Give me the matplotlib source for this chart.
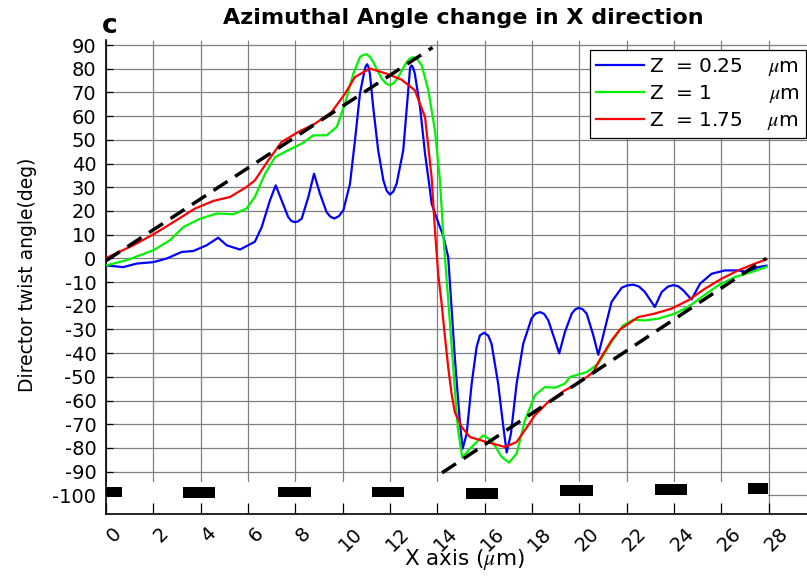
import matplotlib
matplotlib.use("Agg")
import matplotlib.pyplot as plt
from matplotlib.transforms import ScaledTranslation

plt.rcParams["font.family"] = ["DejaVu Sans"]
plt.rcParams["axes.unicode_minus"] = False
plt.rcParams["mathtext.fontset"] = "stix"

# ---- data -------------------------------------------------------------
x_blue = [0, 0.73, 1.3, 2, 2.56, 3.2, 3.69, 4.25, 4.74, 5.1, 5.66, 6.29, 6.58,
          6.93, 7.17, 7.42, 7.7, 7.83, 7.96, 8.1, 8.27, 8.55, 8.79, 9.04, 9.32,
          9.48, 9.65, 9.84, 10.03, 10.31, 10.52, 10.73, 10.91, 10.97, 11.03,
          11.09, 11.15, 11.29, 11.5, 11.72, 11.86, 12.0, 12.14, 12.28, 12.56,
          12.77, 12.85, 12.91, 12.97, 13.05, 13.27, 13.48, 13.69, 13.76, 13.97,
          14.11, 14.25, 14.46, 14.58, 14.74, 14.96, 15.07, 15.24, 15.45, 15.66,
          15.8, 15.98, 16.15, 16.29, 16.57, 16.79, 16.93, 17.11, 17.35, 17.63,
          17.98, 18.15, 18.34, 18.52, 18.69, 18.97, 19.15, 19.39, 19.68, 19.83,
          19.98, 20.14, 20.31, 20.59, 20.8, 21.01, 21.36, 21.79, 22.03, 22.28,
          22.52, 22.77, 23.19, 23.48, 23.75, 23.97, 24.18, 24.39, 24.74, 25.1,
          25.59, 26.15, 26.71, 27.14, 27.56, 27.91]
y_blue = [-3, -3.7, -2.2, -1.6, -0.1, 2.7, 3.1, 5.5, 8.7, 5.5, 3.7, 7, 13.2,
          24.5, 30.8, 24.5, 17.4, 15.8, 15.3, 15.5, 16.8, 25.9, 35.7, 27.3, 19.5,
          17.6, 16.8, 17.8, 20.3, 31.5, 49.8, 69.5, 78.6, 81.0, 81.9,
          80.8, 77.9, 63.8, 45.6, 32.9, 28.5, 26.9, 28.2, 31.5, 45.6,
          70.9, 80.5, 81.4, 80.6, 77.9, 63.8, 44.2, 28.7, 23.1, 17,
          13.2, 9.5, 0.5, -17.7, -42, -70, -80.3, -74, -52.9, -37.4,
          -32.5, -31.4, -32.6, -36, -52.9, -71.2, -81.9, -74, -52.9, -36,
          -25.4, -23.3, -22.7, -23.5, -26.2, -34.6, -40.1, -31.1, -23.3, -21.5,
          -20.9, -21.5, -23.3, -32.5, -40.7, -32.5, -18.4, -12.4, -11.4, -11.1,
          -11.9, -14.2, -20.5, -14.2, -11.9, -11.3, -11.8, -13.5, -17.4, -10.7,
          -6.5, -5.1, -5.1, -5.8, -3.7, -3.1]

x_green = [0, 0.87, 2, 2.7, 3.27, 3.97, 4.68, 5.38, 5.94, 6.29, 6.72, 7.14, 7.7,
           8.27, 8.76, 9.32, 9.75, 10.1, 10.45, 10.73, 10.87, 11.01, 11.15,
           11.29, 11.65, 11.83, 12.0, 12.17, 12.35, 12.7, 12.84, 12.98, 13.16,
           13.34, 13.62, 13.9, 14.11, 14.25, 14.46, 14.67, 14.86, 15.05, 15.45,
           15.94, 16.29, 16.72, 17.03, 17.35, 17.7, 18.12, 18.55, 18.97, 19.39,
           19.6, 20.31, 20.8, 21.36, 21.85, 22.28, 22.77, 23.33, 24.04, 24.6,
           25.17, 25.87, 26.57, 27.28, 27.91]
y_green = [-3, -0.8, 3.4, 7.6, 13.2, 16.7, 18.9, 18.6, 21, 25.9, 35.7, 42.7, 45.6,
           48.4, 51.9, 51.9, 55.4, 65.3, 77.9, 84.9, 85.8, 86.1, 85.0,
           82.8, 75.8, 73.8, 73, 74, 76.5, 82.8, 84.3, 84.9, 84,
           81.4, 70.9, 54, 33, 10, -17.7, -45.9, -71.2, -84, -79.6,
           -74.7, -76.8, -83.8, -86.2, -82.4, -68.4, -57.8, -54.3, -54.6, -52.9,
           -50.1, -48, -44.5, -35.3, -28.3, -25.9, -26.2, -25.5, -23.3, -20.5,
           -16.3, -11.4, -7.9, -5.8, -3.6]

x_red = [0, 1.15, 2, 2.85, 3.76, 4.53, 5.24, 5.94, 6.29, 6.86, 7.42, 8.12, 8.83,
         9.53, 10.1, 10.52, 11.15, 11.86, 12.49, 13.05, 13.48, 13.62, 13.76,
         13.9, 14.04, 14.18, 14.32, 14.46, 14.6, 14.74, 15.03, 15.38, 16.08,
         16.86, 17.35, 17.77, 18.12, 18.69, 19.39, 20.03, 20.59, 20.8, 21.36,
         21.72, 22.49, 23.19, 23.9, 24.6, 25.31, 26.01, 26.71, 27.42, 27.91]
y_red = [0.1, 5.5, 10.1, 15.3, 21, 24.2, 25.9, 30.1, 32.9, 41.4, 49.1, 53.3, 56.8,
         61.7, 69.5, 76.5, 80.1, 77.9, 75.4, 70.9, 59.6, 47, 34,
         11.8, -7, -19, -33, -46, -57, -65, -71.2, -75.4, -77.5,
         -79.6, -77.5, -71.5, -66.2, -60.6, -55.7, -52.2, -48, -43.8, -34.6,
         -30, -24.8, -23.3, -21.2, -17.7, -12.8, -8.6, -5.1, -2.2, -0.4]

# linear guides for the two twist branches
guide1_x = [0, 13.8]
guide1_y = [-1, 89]
guide2_x = [14.2, 27.9]
guide2_y = [-90.5, 0]

# electrode stripes along the bottom
bar_left = [0, 3.26, 7.28, 11.22, 15.21, 19.2, 23.19, 27.14]
bar_width = [0.68, 1.36, 1.37, 1.37, 1.36, 1.36, 1.35, 0.82]
bar_bottom = [-100.8, -101.1, -100.8, -100.8, -101.4, -100.1, -99.7, -99.3]
bar_height = 4.5

x_ticks = list(range(0, 29, 2))
y_ticks = list(range(-100, 91, 10))
series_labels = ["Z  = 0.25    ", "Z  = 1         ", "Z  = 1.75    "]

# ---- figure -----------------------------------------------------------
W, H = 807, 579
fig = plt.figure(figsize=(W / 100, H / 100), dpi=100)
ax = fig.add_axes([106 / W, (H - 514.3) / H, 710 / W, 474 / H])
ax.set_xlim(0, 30)
ax.set_ylim(-108, 92)

grid_kw = dict(color="0.5", lw=0.9, zorder=0.5)
ax.vlines(x_ticks, -108, 92, **grid_kw)
ax.hlines(y_ticks, 0, 30, **grid_kw)

# blank strip holding the electrodes
ax.bar([0], [13.6], width=[27.96], bottom=[-108], align="edge",
       color="white", zorder=1)
ax.bar(bar_left, [bar_height] * len(bar_left), width=bar_width,
       bottom=bar_bottom, align="edge", color="black", zorder=1.2)

l1, = ax.plot(x_blue, y_blue, color=(0, 0, 1), lw=1.6, zorder=3)
l2, = ax.plot(x_green, y_green, color=(0, 0.95, 0), lw=1.6, zorder=3)
l3, = ax.plot(x_red, y_red, color=(1, 0, 0), lw=1.6, zorder=3)
for gx, gy in ((guide1_x, guide1_y), (guide2_x, guide2_y)):
    ax.plot(gx, gy, color="black", lw=2.5, dashes=(4.8, 2.6), zorder=4)

for s in ("top", "right"):
    ax.spines[s].set_visible(False)
for s in ("left", "bottom"):
    ax.spines[s].set_linewidth(1.2)

ax.set_xticks(x_ticks)
ax.set_yticks(y_ticks)
ax.tick_params(axis="both", direction="in", labelsize=14, width=0.9)
ax.tick_params(axis="y", length=5, pad=7)
ax.tick_params(axis="x", length=8, pad=7)
ax.set_xticklabels([str(v) for v in x_ticks], rotation=45,
                   ha="center", va="top")
shift = ScaledTranslation(8 / 100, 0, fig.dpi_scale_trans)
for lbl in ax.get_xticklabels():
    lbl.set_transform(lbl.get_transform() + shift)

ax.set_xlabel(r"X axis ($\mu$m)", fontsize=15.5)
ax.xaxis.set_label_coords((464 - 106) / 710, (514.3 - 559) / 474)
ax.xaxis.label.set_va("center")
ax.set_ylabel("Director twist angle(deg)", fontsize=13.5)
ax.yaxis.set_label_coords((28 - 106) / 710, (514.3 - 275) / 474)
ax.yaxis.label.set_va("center")

ax.set_title("Azimuthal Angle change in X direction", fontsize=16,
             fontweight="bold", x=(463 - 106) / 710,
             y=1 + (40.3 - 18) / 474, va="center", pad=0)
fig.text(110 / W, 1 - 26 / H, "c", fontsize=19, fontweight="bold",
         ha="center", va="center")

leg = ax.legend([l1, l2, l3], [s + r"$\mu$m" for s in series_labels],
                loc="upper right", bbox_to_anchor=(806 / W, 1 - 50 / H),
                bbox_transform=fig.transFigure, borderaxespad=0,
                fontsize=14.5, fancybox=False, framealpha=1, edgecolor="black",
                handlelength=2.4, handletextpad=0.25, labelspacing=0.25,
                borderpad=0.3)
leg.get_frame().set_linewidth(0.9)
leg.set_zorder(5)

fig.savefig("out.png", dpi=100)
